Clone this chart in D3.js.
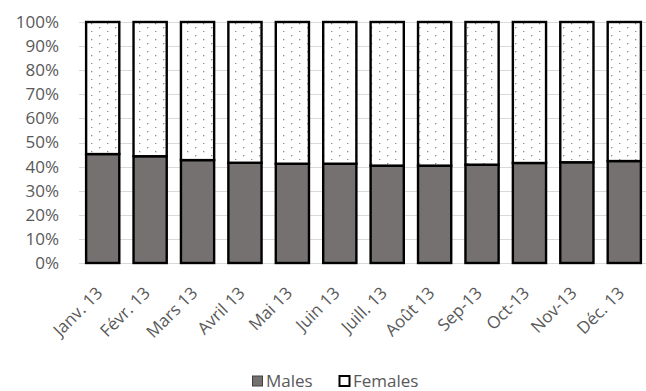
<!DOCTYPE html>
<html>
<head>
<meta charset="utf-8">
<script src="https://cdn.jsdelivr.net/npm/d3@7"></script>
<style>
  html, body { margin: 0; padding: 0; background: #fff; }
  svg { display: block; }
  text { font-family: "Open Sans", "Noto Sans", sans-serif; fill: #595959; }
</style>
</head>
<body>
<svg id="chart" width="646" height="391"></svg>
<script>
// Monthly share of males and females, 2013
const months = ["Janv. 13", "Févr. 13", "Mars 13", "Avril 13", "Mai 13", "Juin 13",
                "Juill. 13", "Août 13", "Sep-13", "Oct-13", "Nov-13", "Déc. 13"];
const males = [0.452, 0.443, 0.427, 0.416, 0.412, 0.412, 0.404, 0.404, 0.408, 0.415, 0.418, 0.423];
const females = males.map(m => 1 - m);
const yTicks = [0, 0.1, 0.2, 0.3, 0.4, 0.5, 0.6, 0.7, 0.8, 0.9, 1.0];
const seriesNames = ["Males", "Females"];

const svg = d3.select("#chart");
const margin = { left: 79, right: -2, top: 22, bottom: 128 };
const W = 646, H = 391;

const x = d3.scaleBand().domain(months)
  .range([margin.left, W - margin.right]).paddingInner(0.3).paddingOuter(0.15);
const y = d3.scaleLinear().domain([0, 1]).range([H - margin.bottom, margin.top]);

// sparse dotted fill for the female segment
const defs = svg.append("defs");
const pat = defs.append("pattern").attr("id", "dots")
  .attr("patternUnits", "userSpaceOnUse").attr("width", 16).attr("height", 16);
pat.append("rect").attr("width", 16).attr("height", 16).attr("fill", "#fff");
[[3, 3], [11, 7], [3, 11], [11, 15]].forEach(([cx, cy]) =>
  pat.append("rect").attr("x", cx).attr("y", cy).attr("width", 1.3).attr("height", 1.3).attr("fill", "#8c8c8c"));

// gridlines
svg.append("g").selectAll("line").data(yTicks).join("line")
  .attr("x1", margin.left).attr("x2", W)
  .attr("y1", d => Math.round(y(d)) + 0.5).attr("y2", d => Math.round(y(d)) + 0.5)
  .attr("stroke", "#d9d9d9").attr("stroke-width", 1);

// y axis labels
const yAxis = d3.axisLeft(y).tickValues(yTicks).tickFormat(d3.format(".0%")).tickSize(0).tickPadding(0);
const yg = svg.append("g").attr("transform", `translate(59,0)`).call(yAxis);
yg.select(".domain").remove();
yg.selectAll("text").attr("font-size", 17).attr("fill", "#595959")
  .style("font-family", "'Open Sans', sans-serif");

// stacked bars
const stack = d3.stack().keys(seriesNames)(months.map((m, i) => ({ month: m, Males: males[i], Females: females[i] })));
const fills = { Males: "#767171", Females: "url(#dots)" };
svg.append("g").selectAll("g").data(stack).join("g")
  .attr("fill", d => fills[d.key])
  .selectAll("rect").data(d => d).join("rect")
  .attr("x", d => x(d.data.month))
  .attr("width", x.bandwidth())
  .attr("y", d => y(d[1]))
  .attr("height", d => y(d[0]) - y(d[1]))
  .attr("stroke", "#000").attr("stroke-width", 2.4);

// x axis labels, rotated
const xAxis = d3.axisBottom(x).tickSize(0).tickPadding(0);
const xg = svg.append("g").attr("transform", `translate(0,${y(0)})`).call(xAxis);
xg.select(".domain").remove();
xg.selectAll("text")
  .attr("font-size", 17).attr("fill", "#595959")
  .style("font-family", "'Open Sans', sans-serif")
  .attr("text-anchor", "end")
  .attr("dy", null).attr("y", 0)
  .attr("transform", "translate(1,31) rotate(-45)");

// legend
const legend = svg.append("g").attr("transform", "translate(252,381)");
const items = [
  { name: "Males", fill: "#767171", sw: 1, x: 0 },
  { name: "Females", fill: "#fff", sw: 2, x: 87 }
];
const li = legend.selectAll("g").data(items).join("g").attr("transform", d => `translate(${d.x},0)`);
li.append("rect").attr("x", 0.5).attr("y", -5).attr("width", 10).attr("height", 10)
  .attr("fill", d => d.fill).attr("stroke", d => d.sw > 1 ? "#000" : "#404040").attr("stroke-width", d => d.sw);
li.append("text").attr("x", 14).attr("y", 6).attr("font-size", 17)
  .attr("fill", "#595959").text(d => d.name);
</script>
</body>
</html>
